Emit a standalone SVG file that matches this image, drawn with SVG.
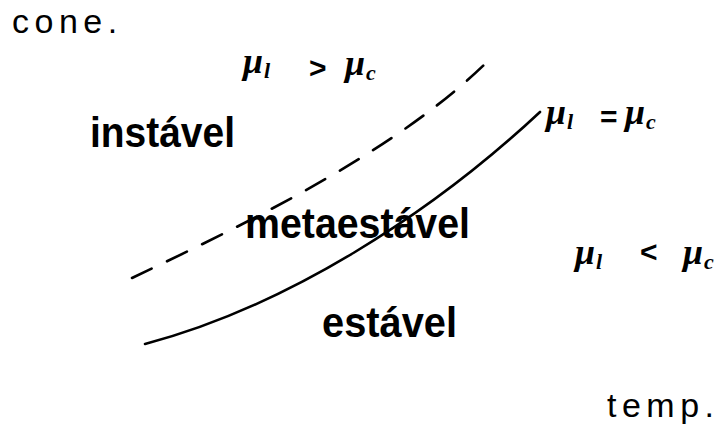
<svg xmlns="http://www.w3.org/2000/svg" width="723" height="432" viewBox="0 0 723 432">
<style>
.axis{font-family:"Liberation Sans",Arial,sans-serif;font-size:34px;fill:#000}
.region{font-family:"Liberation Sans",Arial,sans-serif;font-size:42px;font-weight:bold;fill:#000}
.mu{font-family:"Liberation Serif","DejaVu Serif",serif;font-style:italic;font-weight:bold;font-size:36px;fill:#000}
.sub{font-size:22px}
.rel{font-family:"Liberation Sans",Arial,sans-serif;font-weight:bold;font-size:30px;fill:#000}
.curve{fill:none;stroke:#000;stroke-width:2.6;stroke-linecap:round}
</style>
<rect width="723" height="432" fill="#fff"/>
<g id="connectors">
<path id="dashed" class="curve" d="M132,278 C252,221 400,149 490,59" stroke-dasharray="22,17"/>
<path id="solid" class="curve" d="M145,344 C285,307 430,215 540,112"/>
</g>
<g id="axis-y"><text class="axis" x="12" y="33" letter-spacing="5.5">cone.</text></g>
<g id="axis-x"><text class="axis" x="607" y="417" letter-spacing="5.5">temp.</text></g>
<g id="instavel"><text class="region" x="90" y="147" textLength="145" lengthAdjust="spacingAndGlyphs">instável</text></g>
<g id="metaestavel"><text class="region" x="245" y="238" textLength="225" lengthAdjust="spacingAndGlyphs">metaestável</text></g>
<g id="estavel"><text class="region" x="322" y="337" textLength="135" lengthAdjust="spacingAndGlyphs">estável</text></g>
<g id="label-gt">
<text class="mu" x="243" y="73">μ<tspan class="sub" dx="1" dy="5">l</tspan></text>
<text class="rel" x="309" y="78">&gt;</text>
<text class="mu" x="345" y="75">μ<tspan class="sub" dx="1" dy="5">c</tspan></text>
</g>
<g id="label-eq">
<text class="mu" x="546" y="124">μ<tspan class="sub" dx="1" dy="5">l</tspan></text>
<text class="rel" x="600" y="127">=</text>
<text class="mu" x="625" y="124">μ<tspan class="sub" dx="1" dy="5">c</tspan></text>
</g>
<g id="label-lt">
<text class="mu" x="575" y="264">μ<tspan class="sub" dx="1" dy="5">l</tspan></text>
<text class="rel" x="640" y="262">&lt;</text>
<text class="mu" x="683" y="264">μ<tspan class="sub" dx="1" dy="5">c</tspan></text>
</g>
</svg>
